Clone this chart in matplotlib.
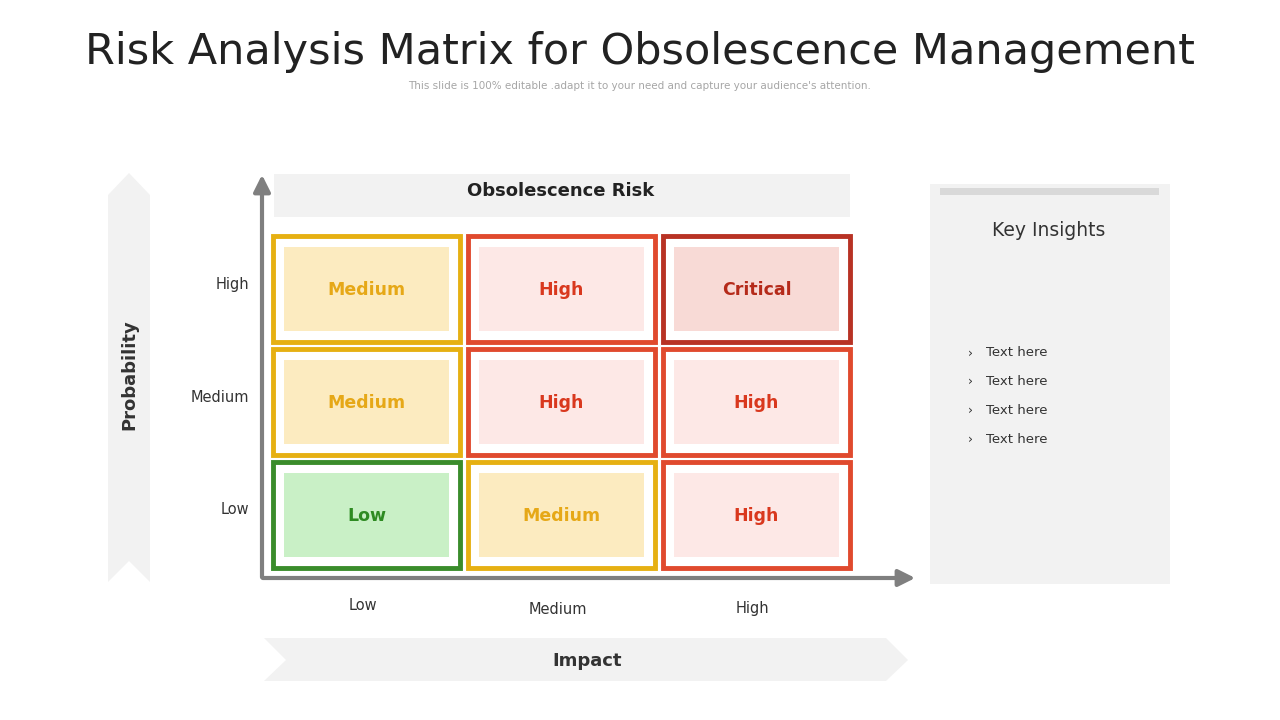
import matplotlib.pyplot as plt
from matplotlib.patches import Rectangle, Polygon

# data
impact_levels = ["Low", "Medium", "High"]
probability_levels = ["High", "Medium", "Low"]   # top to bottom
risk_grid = [["Medium", "High", "High"],
             ["Medium", "High", "High"],
             ["Low", "Medium", "High"]]
risk_grid[0][2] = "Critical"
insights = ["Text here", "Text here", "Text here", "Text here"]

# style per risk level: border, fill, text
styles = {
    "Low": ("#3A8C2B", "#C9F0C6", "#2E8B22"),
    "Medium": ("#E6B012", "#FCEBC0", "#E6A817"),
    "High": ("#E04A2E", "#FDE8E6", "#D9381E"),
    "Critical": ("#B83224", "#F8DAD6", "#B52A1A"),
}

fig = plt.figure(figsize=(12.8, 7.2), dpi=100)
ax = fig.add_axes([0, 0, 1, 1])
ax.set_xlim(0, 1280)
ax.set_ylim(720, 0)
ax.axis("off")

ax.text(640, 52, "Risk Analysis Matrix for Obsolescence Management", ha="center", va="center",
        fontsize=31, color="#222222", family="DejaVu Sans")
ax.text(640, 86, "This slide is 100% editable .adapt it to your need and capture your audience's attention.",
        ha="center", va="center", fontsize=7.5, color="#A6A6A6")

# left banner (probability)
ax.add_patch(Polygon([(108, 195), (129, 173), (150, 195), (150, 582), (129, 561), (108, 582)],
                     closed=True, color="#F2F2F2", lw=0))
ax.text(129, 375, "Probability", rotation=90, ha="center", va="center", fontsize=13,
        fontweight="bold", color="#333333")
# bottom banner (impact)
ax.add_patch(Polygon([(264, 638), (886, 638), (908, 660), (886, 681), (264, 681), (286, 660)],
                     closed=True, color="#F2F2F2", lw=0))
ax.text(587, 661, "Impact", ha="center", va="center", fontsize=13, fontweight="bold", color="#333333")

# header
ax.add_patch(Rectangle((274, 174), 576, 43, color="#F2F2F2", lw=0))
ax.text(561, 191, "Obsolescence Risk", ha="center", va="center", fontsize=13, fontweight="bold",
        color="#222222")

# axes arrows
ax.annotate("", xy=(262, 172), xytext=(262, 580),
            arrowprops=dict(arrowstyle="-|>,head_width=0.5,head_length=1", color="#7F7F7F", lw=3))
ax.annotate("", xy=(918, 578), xytext=(260, 578),
            arrowprops=dict(arrowstyle="-|>,head_width=0.5,head_length=1", color="#7F7F7F", lw=3))

# matrix
x0, y0, cw, ch, gx, gy = 273, 236, 187, 106, 8, 7
for r, row in enumerate(risk_grid):
    for c, lvl in enumerate(row):
        border, fill, tcol = styles[lvl]
        x = x0 + c * (cw + gx)
        y = y0 + r * (ch + gy)
        ax.add_patch(Rectangle((x, y), cw, ch, fill=False, ec=border, lw=3.5))
        ax.add_patch(Rectangle((x + 11, y + 11), cw - 22, ch - 22, color=fill, lw=0))
        ax.text(x + cw / 2, y + ch / 2 + 1, lvl, ha="center", va="center", fontsize=12.5,
                fontweight="bold", color=tcol)

for r, lab in enumerate(probability_levels):
    ax.text(249, 285 + r * 112, lab, ha="right", va="center", fontsize=10.5, color="#333333")
for c, lab in enumerate(impact_levels):
    ax.text(x0 + cw / 2 + c * (cw + gx) - 4, 606 if c == 0 else 609, lab, ha="center", va="center",
            fontsize=10.5, color="#333333")

# key insights panel
ax.add_patch(Rectangle((930, 184), 240, 400, color="#F2F2F2", lw=0))
ax.add_patch(Rectangle((940, 188), 219, 7, color="#D9D9D9", lw=0))
ax.text(1049, 230, "Key Insights", ha="center", va="center", fontsize=13.5, color="#333333")
for i, t in enumerate(insights):
    y = 353 + i * 28.7
    ax.text(970, y, "›", ha="center", va="center", fontsize=9, color="#333333")
    ax.text(986, y, t, ha="left", va="center", fontsize=9.5, color="#333333")

fig.savefig("out.png", dpi=100)
